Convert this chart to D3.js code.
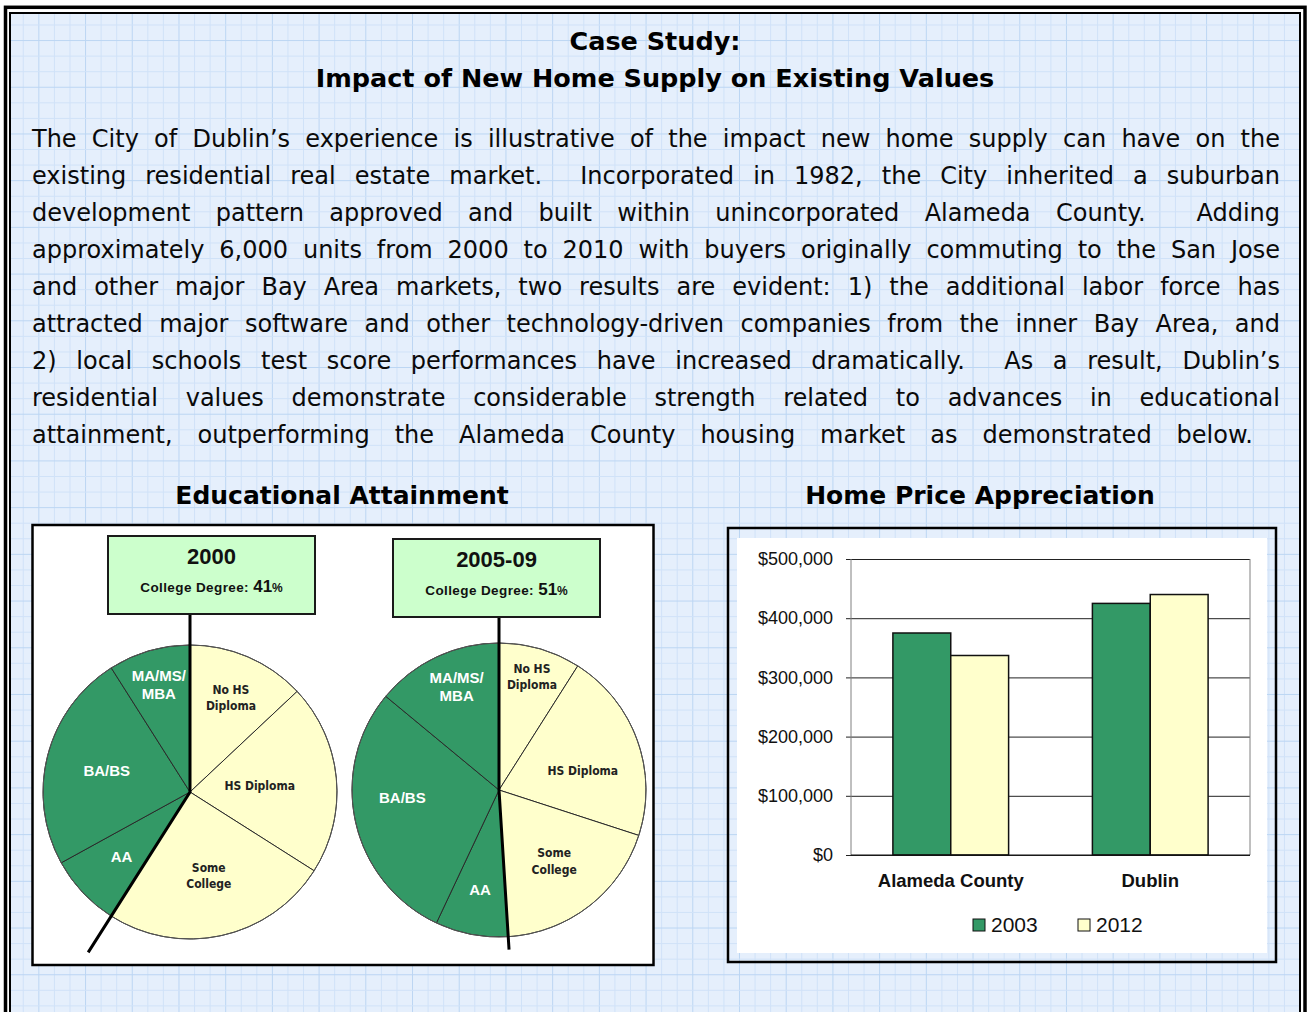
<!DOCTYPE html>
<html>
<head>
<meta charset="utf-8">
<script src="https://cdn.jsdelivr.net/npm/d3@7"></script>
<style>
  body { margin: 0; background: #fff; }
  svg { display: block; }
</style>
</head>
<body>
<svg id="page" width="1309" height="1012"></svg>
<script>
// ---- data ----
var titleLines = ["Case Study:", "Impact of New Home Supply on Existing Values"];
var bodyLines = [
    "The City of Dublin\u2019s experience is illustrative of the impact new home supply can have on the",
    "existing residential real estate market.  Incorporated in 1982, the City inherited a suburban",
    "development pattern approved and built within unincorporated Alameda County.  Adding",
    "approximately 6,000 units from 2000 to 2010 with buyers originally commuting to the San Jose",
    "and other major Bay Area markets, two results are evident: 1) the additional labor force has",
    "attracted major software and other technology-driven companies from the inner Bay Area, and",
    "2) local schools test score performances have increased dramatically.  As a result, Dublin\u2019s",
    "residential values demonstrate considerable strength related to advances in educational",
    "attainment, outperforming the Alameda County housing market as demonstrated below."
];
var headings = ["Educational Attainment", "Home Price Appreciation"];

// education pies (percent of adults), clockwise from 12 o'clock
var eduLevels = ["No HS Diploma", "HS Diploma", "Some College", "AA", "BA/BS", "MA/MS/MBA"];
var eduLabels = [["No HS", "Diploma"], ["HS Diploma"], ["Some", "College"], ["AA"], ["BA/BS"], ["MA/MS/", "MBA"]];
var eduDegree = [false, false, false, true, true, true];
var pieYears = ["2000", "2005-09"];
var collegeShare = [41, 51];
var edu2000 = [13, 21, 25, 8, 24, 9];
var edu2005 = [9, 21, 19, 8, 29, 14];

// home prices
var areas = ["Alameda County", "Dublin"];
var priceYears = ["2003", "2012"];
var price2003 = [375000, 425000];
var price2012 = [337000, 440000];
var priceTicks = [0, 100000, 200000, 300000, 400000, 500000];

// ---- page ----
var svg = d3.select("#page");
var W = 1309, H = 1012;
var bodyFont = "'DejaVu Sans', Verdana, sans-serif";
var chartFont = "'Liberation Sans', Arial, sans-serif";
var green = "#339966", yellow = "#ffffcc";

svg.append("rect").attr("width", W).attr("height", H).attr("fill", "#fff");

// outer double frame
svg.append("rect")
    .attr("x", 5.5).attr("y", 7.3).attr("width", 1299.5).attr("height", 1100)
    .attr("fill", "#fff").attr("stroke", "#000").attr("stroke-width", 3.5);

svg.append("rect")
    .attr("x", 10).attr("y", 13).attr("width", 1290).attr("height", 1100)
    .attr("fill", "#e5effc");

// graph paper background
var cell = 15.57;
var grid = svg.append("g").attr("stroke-width", 1);
d3.range(7.7, 1300, cell).forEach(function (x, i) {
    if (x < 11) return;
    grid.append("line").attr("x1", x).attr("x2", x).attr("y1", 14).attr("y2", H)
        .attr("stroke", i % 3 === 2 ? "#bcd6f3" : "#d0e2f8");
});
d3.range(9.4, H, cell).forEach(function (y, i) {
    if (y < 14) return;
    grid.append("line").attr("y1", y).attr("y2", y).attr("x1", 11).attr("x2", 1299)
        .attr("stroke", i % 3 === 2 ? "#bcd6f3" : "#d0e2f8");
});

svg.append("rect")
    .attr("x", 10).attr("y", 13).attr("width", 1290).attr("height", 1100)
    .attr("fill", "none").attr("stroke", "#000").attr("stroke-width", 2);

// titles
svg.selectAll(".title")
    .data(titleLines)
    .enter().append("text")
    .attr("class", "title")
    .attr("x", 655)
    .attr("y", (d, i) => 50 + i * 37)
    .attr("text-anchor", "middle")
    .style("font-family", bodyFont)
    .style("font-size", "25.5px")
    .style("font-weight", "bold")
    .text(d => d);

// justified body paragraph (a double space counts as two gaps)
var textLeft = 32;
var lineEnds = [1280, 1280, 1280, 1280, 1280, 1280, 1280, 1280, 1253];
var measure = svg.append("text")
    .style("font-family", bodyFont)
    .style("font-size", "24px");
function wordWidth(w) {
    measure.text(w);
    return measure.node().getComputedTextLength();
}

bodyLines.forEach(function (line, i) {
    var tokens = line.split(" ");
    var words = [], weights = [], pending = 0;
    tokens.forEach(function (tk) {
        if (tk === "") { pending += 1; return; }
        if (words.length) weights.push(1 + pending);
        pending = 0;
        words.push(tk);
    });
    var widths = words.map(wordWidth);
    var unit = (lineEnds[i] - textLeft - d3.sum(widths)) / d3.sum(weights);
    var t = svg.append("text")
        .attr("y", 146.5 + i * 37)
        .style("font-family", bodyFont)
        .style("font-size", "24px")
        .attr("fill", "#0a0a0a");
    var x = textLeft;
    words.forEach(function (w, j) {
        t.append("tspan").attr("x", x).text(w);
        x += widths[j] + (j < weights.length ? weights[j] * unit : 0);
    });
});
measure.remove();

// section headings
svg.selectAll(".heading")
    .data(headings)
    .enter().append("text")
    .attr("class", "heading")
    .attr("x", (d, i) => i === 0 ? 342 : 980)
    .attr("y", 504)
    .attr("text-anchor", "middle")
    .style("font-family", bodyFont)
    .style("font-size", "25px")
    .style("font-weight", "bold")
    .text(d => d);

// ---- Educational attainment pies ----
svg.append("rect")
    .attr("x", 32.5).attr("y", 525).attr("width", 621).attr("height", 440)
    .attr("fill", "#fff").attr("stroke", "#000").attr("stroke-width", 2.5);

var pies = [
    {year: pieYears[0], college: collegeShare[0], values: edu2000, cx: 190, cy: 792,
     boxX: 108, boxY: 536, lead: 190,
     labelR: [103, 70, 86, 94, 86, 112], nudge: [0, 0, 0, 0, 0, 0]},
    {year: pieYears[1], college: collegeShare[1], values: edu2005, cx: 499, cy: 790,
     boxX: 393, boxY: 539, lead: 160,
     labelR: [118, 86, 90, 101, 97, 112], nudge: [0, 7, 0, 0, 8, 3]}
];
var radius = 147;
var pieLayout = d3.pie().sort(null).value(d => d);
var arc = d3.arc().innerRadius(0).outerRadius(radius);

pies.forEach(function (p) {
    var g = svg.append("g").attr("transform", `translate(${p.cx},${p.cy})`);
    var slices = pieLayout(p.values);

    g.selectAll("path")
        .data(slices)
        .enter().append("path")
        .attr("d", arc)
        .attr("fill", (d, i) => eduDegree[i] ? green : yellow)
        .attr("stroke", "#2a2a2a")
        .attr("stroke-width", 1);

    g.append("circle").attr("r", radius)
        .attr("fill", "none").attr("stroke", "#555").attr("stroke-width", 1);

    // labels
    slices.forEach(function (s, i) {
        var a = (s.startAngle + s.endAngle) / 2 + p.nudge[i] * Math.PI / 180;
        var lx = Math.sin(a) * p.labelR[i], ly = -Math.cos(a) * p.labelR[i];
        var lines = eduLabels[i];
        var deg = eduDegree[i];
        var step = deg ? 18 : 16.5;
        var t = g.append("text")
            .attr("text-anchor", "middle")
            .attr("fill", deg ? "#fff" : "#222")
            .style("font-family", deg ? chartFont : "'DejaVu Sans Condensed', 'DejaVu Sans', sans-serif")
            .style("font-stretch", deg ? "normal" : "condensed")
            .style("font-size", deg ? "15px" : "12px")
            .style("font-weight", "bold");
        lines.forEach(function (ln, k) {
            t.append("tspan")
                .attr("x", lx)
                .attr("y", ly + (k - (lines.length - 1) / 2) * step)
                .attr("dy", "0.36em")
                .text(ln);
        });
    });

    // leader line: box -> centre -> out along the degree boundary
    var split = slices[2].endAngle;
    var path = d3.path();
    path.moveTo(0, p.boxY + 78 - p.cy);
    path.lineTo(0, 0);
    path.lineTo(Math.sin(split) * p.lead, -Math.cos(split) * p.lead);
    g.append("path").attr("d", path.toString())
        .attr("fill", "none").attr("stroke", "#000").attr("stroke-width", 3);

    // year box
    var box = svg.append("g").attr("transform", `translate(${p.boxX},${p.boxY})`);
    box.append("rect").attr("width", 207).attr("height", 78)
        .attr("fill", "#ccffcc").attr("stroke", "#1a1a1a").attr("stroke-width", 2);
    box.append("text")
        .attr("x", 103.5).attr("y", 28)
        .attr("text-anchor", "middle")
        .style("font-family", chartFont).style("font-size", "22px").style("font-weight", "bold")
        .attr("fill", "#111")
        .text(p.year);
    var cd = box.append("text")
        .attr("x", 103.5).attr("y", 56)
        .attr("text-anchor", "middle")
        .style("font-family", chartFont).style("font-weight", "bold")
        .attr("fill", "#111");
    cd.append("tspan").style("font-size", "13.5px").style("letter-spacing", "0.4px").text("College Degree: ");
    cd.append("tspan").style("font-size", "17px").text(p.college);
    cd.append("tspan").style("font-size", "12px").text("%");
});

// ---- Home price bar chart ----
svg.append("rect")
    .attr("x", 728).attr("y", 528).attr("width", 548).attr("height", 434)
    .attr("fill", "none").attr("stroke", "#000").attr("stroke-width", 2.5);
svg.append("rect")
    .attr("x", 737).attr("y", 538).attr("width", 530).attr("height", 415)
    .attr("fill", "#fff");

var plot = {left: 851, right: 1250, top: 559, bottom: 855};

var x0 = d3.scaleBand()
    .domain(areas)
    .range([plot.left, plot.right])
    .paddingInner(0.42)
    .paddingOuter(0.21);
var x1 = d3.scaleBand()
    .domain(priceYears)
    .range([0, x0.bandwidth()]);
var y = d3.scaleLinear()
    .domain([0, 500000])
    .range([plot.bottom, plot.top]);

// gridlines + tick marks
var yAxis = d3.axisLeft(y)
    .tickValues(priceTicks)
    .tickSize(-(plot.right - plot.left))
    .tickFormat(d => "$" + d3.format(",")(d))
    .tickPadding(18);

var ya = svg.append("g")
    .attr("transform", `translate(${plot.left},0)`)
    .call(yAxis);
ya.select(".domain").remove();
ya.selectAll(".tick line").attr("stroke", "#222").attr("x1", -5);
ya.selectAll(".tick text")
    .attr("fill", "#111")
    .style("font-family", chartFont)
    .style("font-size", "18px");

// plot frame sides
svg.append("line").attr("x1", plot.left).attr("x2", plot.left)
    .attr("y1", plot.top).attr("y2", plot.bottom).attr("stroke", "#808080");
svg.append("line").attr("x1", plot.right).attr("x2", plot.right)
    .attr("y1", plot.top).attr("y2", plot.bottom).attr("stroke", "#808080");

var priceRows = areas.map((a, i) => ({area: a, values: [price2003[i], price2012[i]]}));

var groups = svg.selectAll("g.area")
    .data(priceRows)
    .enter().append("g")
    .attr("class", "area")
    .attr("transform", d => `translate(${x0(d.area)},0)`);

groups.selectAll("rect")
    .data(d => d.values.map((v, i) => ({year: priceYears[i], value: v})))
    .enter().append("rect")
    .attr("x", d => x1(d.year))
    .attr("y", d => y(d.value))
    .attr("width", x1.bandwidth())
    .attr("height", d => y(0) - y(d.value))
    .attr("fill", (d, i) => i === 0 ? green : yellow)
    .attr("stroke", "#111")
    .attr("stroke-width", 1.5);

// baseline on top of bars
svg.append("line").attr("x1", plot.left).attr("x2", plot.right)
    .attr("y1", y(0)).attr("y2", y(0)).attr("stroke", "#111");

// category labels
svg.selectAll(".cat")
    .data(areas)
    .enter().append("text")
    .attr("class", "cat")
    .attr("x", d => x0(d) + x0.bandwidth() / 2)
    .attr("y", 887)
    .attr("text-anchor", "middle")
    .style("font-family", chartFont)
    .style("font-size", "18.5px")
    .style("font-weight", "bold")
    .attr("fill", "#111")
    .text(d => d);

// legend
var legend = svg.selectAll(".legend")
    .data(priceYears)
    .enter().append("g")
    .attr("class", "legend")
    .attr("transform", (d, i) => `translate(${973 + i * 105},919)`);

legend.append("rect")
    .attr("width", 12).attr("height", 12)
    .attr("fill", (d, i) => i === 0 ? green : yellow)
    .attr("stroke", "#111").attr("stroke-width", 1);

legend.append("text")
    .attr("x", 18).attr("y", 13)
    .style("font-family", chartFont)
    .style("font-size", "21px")
    .attr("fill", "#111")
    .text(d => d);
</script>
</body>
</html>
